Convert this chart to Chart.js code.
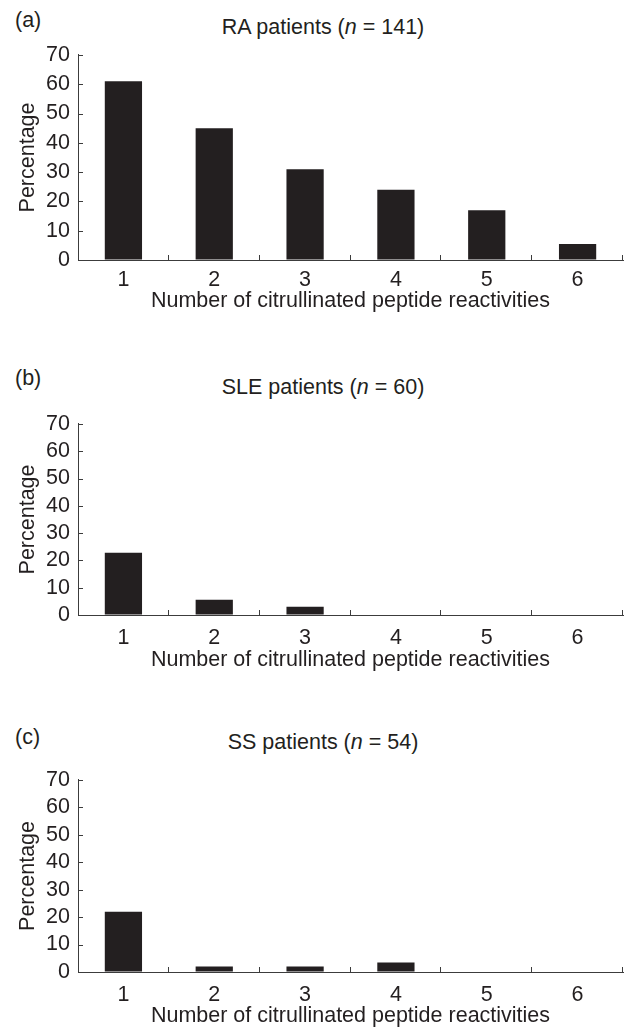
<!DOCTYPE html>
<html>
<head>
<meta charset="utf-8">
<script src="https://cdn.jsdelivr.net/npm/chart.js@4"></script>
<style>
body { margin: 0; background: #fff; }
#page { position: relative; width: 626px; height: 1031px; overflow: hidden;
        font-family: 'Liberation Sans', Arial, sans-serif; color: #231f20; }
.letter, .ttl { position: absolute; font-size: 21.5px; line-height: 26px; white-space: nowrap; }
.ttl { left: 20px; width: 606px; text-align: center; }
canvas { position: absolute; left: 0; }
</style>
</head>
<body>
<div id="page"></div>
<script>
'use strict';

let categories = ['1', '2', '3', '4', '5', '6'];
let raValues = [61, 45, 31, 24, 17, 5.5];
let sleValues = [22.8, 5.6, 3, 0, 0, 0];
let ssValues = [22, 2, 2, 3.5, 0, 0];
let panelLetters = ['(a)', '(b)', '(c)'];
let panelGroups = ['RA patients', 'SLE patients', 'SS patients'];
let panelN = [141, 60, 54];
let yMin = 0;
let yMax = 70;
let yStep = 10;
let xAxisTitle = 'Number of citrullinated peptide reactivities';
let yAxisTitle = 'Percentage';

let barColor = '#231f20';
let axisColor = '#3c3c3c';
let fontFamily = "'Liberation Sans', Arial, sans-serif";
let fontSize = 21.5;
let halfLine = fontSize * 1.2 / 2;

// page positions of each panel, in px
let layouts = [
  { letterY: 7,   titleY: 14,  plotTop: 54,  plotBottom: 260, tickY: 280, xTitleY: 301 },
  { letterY: 365, titleY: 374, plotTop: 423, plotBottom: 615, tickY: 638, xTitleY: 660 },
  { letterY: 724, titleY: 729, plotTop: 779, plotBottom: 972, tickY: 995, xTitleY: 1016 }
];
let allValues = [raValues, sleValues, ssValues];

// ticks in the reference point into the plot, so draw them by hand
let inwardTicks = {
  id: 'inwardTicks',
  afterDraw(chart) {
    let ctx = chart.ctx;
    let x = chart.scales.x;
    let y = chart.scales.y;
    ctx.save();
    ctx.strokeStyle = axisColor;
    ctx.lineWidth = 1;
    ctx.beginPath();
    for (let v = yMin; v <= yMax; v += yStep) {
      let py = Math.round(y.getPixelForValue(v)) + 0.5;
      ctx.moveTo(x.left, py);
      ctx.lineTo(x.left + 5, py);
    }
    for (let i = 1; i <= categories.length; i++) {
      let px = i < categories.length
        ? (x.getPixelForValue(i - 1) + x.getPixelForValue(i)) / 2
        : x.right;
      px = Math.round(px) - 0.5;
      ctx.moveTo(px, y.bottom);
      ctx.lineTo(px, y.bottom - 5);
    }
    ctx.stroke();
    ctx.restore();
  }
};

let page = document.getElementById('page');

function makePanel(i) {
  let L = layouts[i];

  let letter = document.createElement('div');
  letter.className = 'letter';
  letter.style.left = '15px';
  letter.style.top = L.letterY + 'px';
  letter.textContent = panelLetters[i];
  page.appendChild(letter);

  let ttl = document.createElement('div');
  ttl.className = 'ttl';
  ttl.style.top = L.titleY + 'px';
  ttl.innerHTML = panelGroups[i] + ' (<i>n</i> = ' + panelN[i] + ')';
  page.appendChild(ttl);

  let canvasTop = L.plotTop - 20;
  let xHeight = L.xTitleY + halfLine - L.plotBottom;
  let h = Math.ceil(L.xTitleY + halfLine - canvasTop + 3);

  let canvas = document.createElement('canvas');
  canvas.width = 626;
  canvas.height = h;
  canvas.style.top = canvasTop + 'px';
  page.appendChild(canvas);

  let font = { family: fontFamily, size: fontSize, lineHeight: 1.2 };

  new Chart(canvas.getContext('2d'), {
    type: 'bar',
    data: {
      labels: categories,
      datasets: [{
        data: allValues[i],
        backgroundColor: barColor,
        borderWidth: 0,
        barPercentage: 0.41,
        categoryPercentage: 1
      }]
    },
    options: {
      responsive: false,
      animation: false,
      devicePixelRatio: 1,
      layout: { padding: { top: 20, right: 3, bottom: h - (L.xTitleY + halfLine - canvasTop), left: 0 } },
      plugins: { legend: { display: false }, tooltip: { enabled: false } },
      scales: {
        x: {
          grid: { drawOnChartArea: false, drawTicks: false },
          border: { display: true, color: axisColor, width: 1 },
          ticks: {
            color: barColor,
            padding: L.tickY - L.plotBottom - halfLine,
            font: font
          },
          title: {
            display: true,
            text: xAxisTitle,
            color: barColor,
            padding: 0,
            font: font
          },
          afterFit(scale) { scale.height = xHeight; }
        },
        y: {
          min: yMin,
          max: yMax,
          grid: { drawOnChartArea: false, drawTicks: false },
          border: { display: true, color: axisColor, width: 1 },
          ticks: {
            stepSize: yStep,
            autoSkip: false,
            color: barColor,
            padding: 8,
            font: font
          },
          title: {
            display: true,
            text: yAxisTitle,
            color: barColor,
            padding: { top: 28 - halfLine, bottom: 0 },
            font: font
          },
          afterFit(scale) { scale.width = 78; }
        }
      }
    },
    plugins: [inwardTicks]
  });
}

for (let i = 0; i < layouts.length; i++) {
  makePanel(i);
}
</script>
</body>
</html>
